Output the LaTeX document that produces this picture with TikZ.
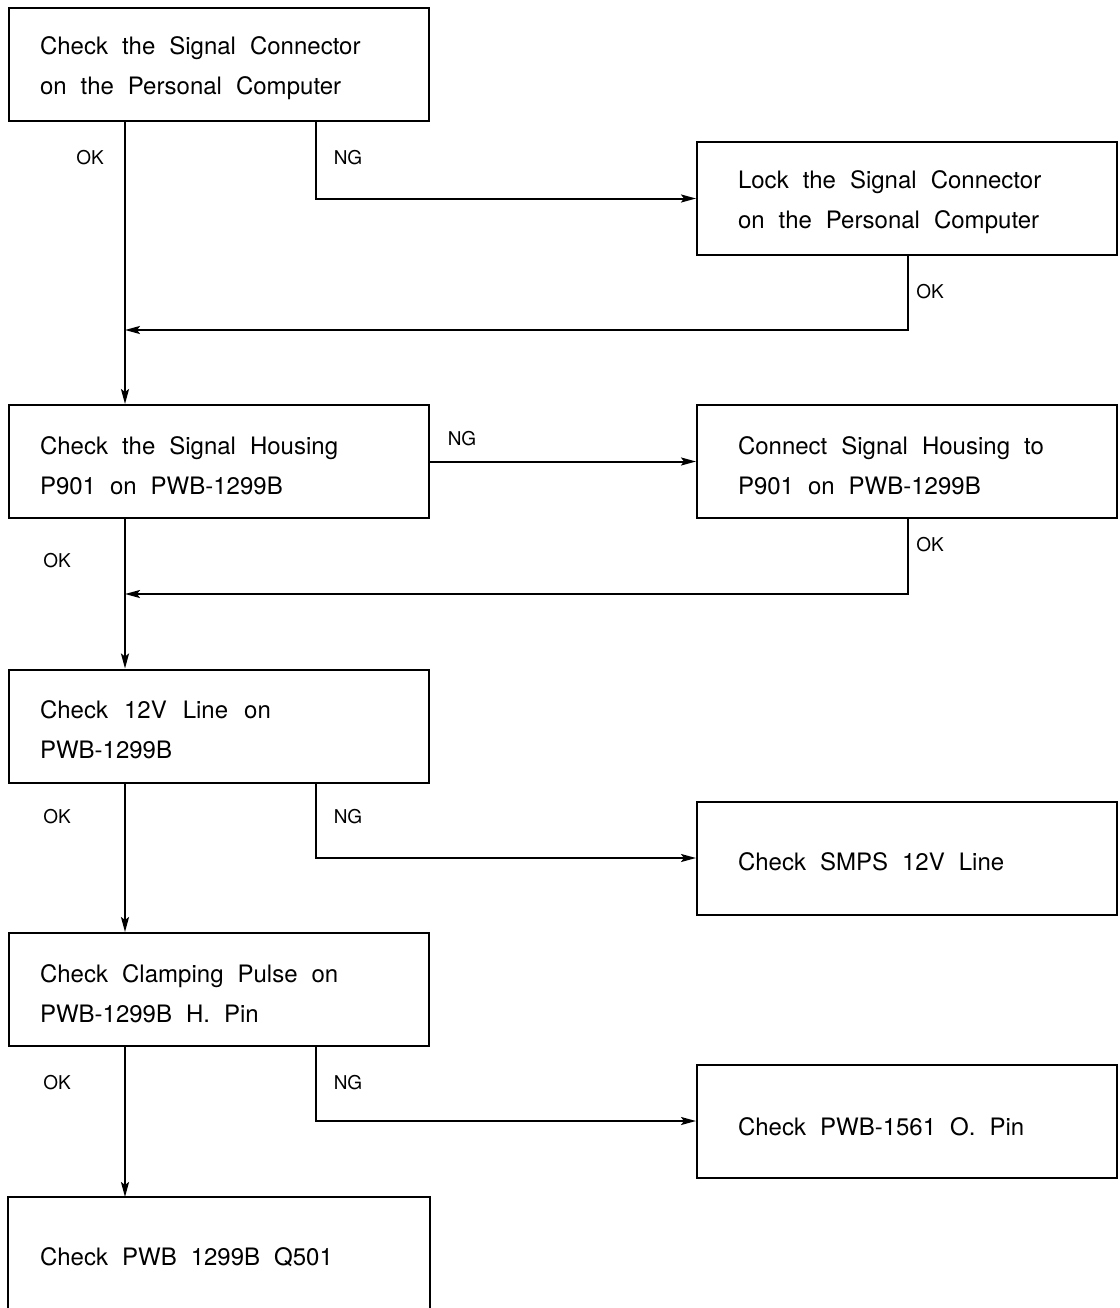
\documentclass[tikz,border=0pt]{standalone}
\usepackage{fontspec}
\setmainfont{TeX Gyre Heros}
\usetikzlibrary{arrows.meta}
\newcommand{\wsp}{\spaceskip=14pt plus 3pt minus 2pt\relax\xspaceskip=14pt plus 3pt minus 2pt\relax}
\newcommand{\tstrut}{\wsp\rule{0pt}{26pt}}
\newcommand{\boxfont}{\fontsize{24}{40}\selectfont}
\begin{document}
\begin{tikzpicture}[x=1pt,y=-1pt,
  line width=2pt,
  boxl/.style={draw,rectangle,minimum width=420pt,minimum height=113pt,
     inner xsep=31pt,inner ysep=0pt,text width=358pt,align=left,
     font=\boxfont},
  boxr/.style={boxl,inner xsep=41pt,text width=338pt},
  lbl/.style={inner sep=0pt,font=\fontsize{19}{20}\selectfont},
  arr/.style={-{Stealth[length=15pt,width=8pt,inset=3pt]}}]
\useasboundingbox (0,0) rectangle (1119,1308);
\fill[white] (0,0) rectangle (1119,1308);
% x positions of connectors
\coordinate (xl) at (125,0);
\coordinate (xn) at (316,0);
\coordinate (xr) at (908,0);
% boxes
\node[boxl] (b1) at (219,64.5) {\tstrut Check the Signal Connector\\on the Personal Computer};
\node[boxr] (r1) at (907,198.5) {\tstrut Lock the Signal Connector\\on the Personal Computer};
\node[boxl] (b2) at (219,461.5) {\tstrut Check the Signal Housing\\P901 on PWB-1299B};
\node[boxr] (r2) at (907,461.5) {\tstrut Connect Signal Housing to\\P901 on PWB-1299B};
\node[boxl] (b3) at (219,726) {\tstrut Check\hspace{2pt} 12V\hspace{2pt} Line\hspace{2pt} on\\PWB-1299B};
\node[boxr] (r3) at (907,858) {\tstrut Check SMPS 12V Line};
\node[boxr] (r4) at (907,1121) {\wsp\rule{0pt}{30pt}Check PWB-1561 O. Pin};
\node[boxl] (b4) at (219,989.5) {\tstrut Check Clamping Pulse on\\PWB-1299B H. Pin};
\node[boxl,draw=none,minimum height=110pt] (b5) at (219,1253) {\tstrut Check PWB 1299B Q501};
\draw (b5.south west) |- (b5.north east) -- (b5.south east);
% junctions
\coordinate (j1) at (125,330);
\coordinate (j2) at (125,594);
% connectors
\draw[arr] (b1.south -| xl) -- (b2.north -| xl);
\draw[arr] (b1.south -| xn) |- (r1.west);
\draw[arr] (r1.south -| xr) |- (j1);
\draw[arr] (b2.east) -- (r2.west);
\draw[arr] (b2.south -| xl) -- (b3.north -| xl);
\draw[arr] (r2.south -| xr) |- (j2);
\draw[arr] (b3.south -| xl) -- (b4.north -| xl);
\draw[arr] (b3.south -| xn) |- (r3.west);
\draw[arr] (b4.south -| xl) -- (b5.north -| xl);
\draw[arr] (b4.south -| xn) |- (r4.west);
% labels
\node[lbl] (ok1) at (90,158) {OK};
\node[lbl] (ng1) at (348,158) {NG};
\node[lbl] (ok1r) at (930,292) {OK};
\node[lbl] (ng2) at (462,439) {NG};
\node[lbl] (ok2) at (57,561) {OK};
\node[lbl] (ok2r) at (930,545) {OK};
\node[lbl] (ok3) at (57,817) {OK};
\node[lbl] (ng3) at (348,817) {NG};
\node[lbl] (ok4) at (57,1083) {OK};
\node[lbl] (ng4) at (348,1083) {NG};
\end{tikzpicture}
\end{document}
